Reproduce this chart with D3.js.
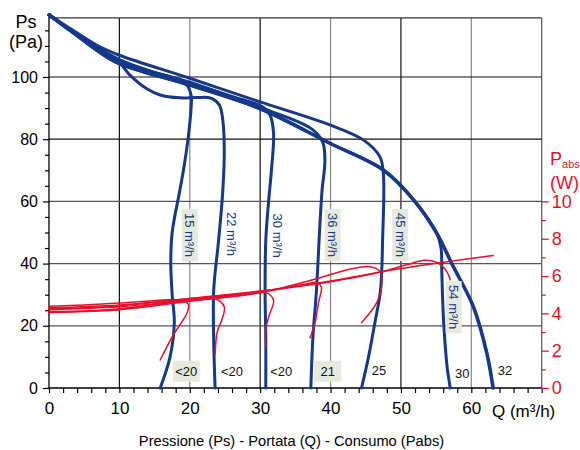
<!DOCTYPE html>
<html><head><meta charset="utf-8">
<script src="https://cdn.jsdelivr.net/npm/d3@7"></script>
<style>body{margin:0;background:#fff}svg{display:block;font-family:"Liberation Sans",Arial,Helvetica,sans-serif}</style>
</head><body><svg id="c" width="580" height="450"></svg>
<script>
// ---------- data ----------
const xTickLabels = [0, 10, 20, 30, 40, 50, 60];
const psTickLabels = [0, 20, 40, 60, 80, 100];
const wTickLabels = [0, 2, 4, 6, 8, 10];
const flowLabels = ["15 m³/h", "22 m³/h", "30 m³/h", "36 m³/h", "45 m³/h", "54 m³/h"];
const noiseLabels = ["<20", "<20", "<20", "21", "25", "30", "32"];

// Pressure curves: [Q (m³/h), Ps (Pa)]
const ps15 = [[0,120],[3,115],[6.8,109.6],[10,105.6],[14,102.2],[18.6,99],[19.6,97.4],[20.2,94],[20.2,90.5],[19.8,81],[19.1,70],[18.6,63.7],[17.5,50],[17.3,40],[17.5,30],[17.8,21],[17.2,10],[15.8,0]];
const ps22 = [[0,120],[3,115],[6.8,109.4],[10,104.6],[11.5,100.6],[13.9,96.2],[15.8,94.2],[18.6,93.3],[21,93.4],[23,93.2],[24.2,91],[24.7,86],[24.9,76.5],[24.7,63.7],[24.1,47.6],[23.4,31.5],[23.4,15.4],[23.6,0]];
const ps30 = [[0,120],[3,115],[6.8,109.2],[10,105],[20,98],[27,93],[30.2,90.6],[31.4,87.8],[31.9,82],[31.6,70],[31.2,60],[30.8,47.6],[30.7,31.5],[30.8,15.6],[30.8,0]];
const ps36 = [[0,120],[3,115],[6.8,109],[10,104.8],[20,98.3],[30,90.2],[35,86],[37.5,83],[38.9,79],[39.2,73],[38.8,63.7],[38.5,53],[38.0,31.5],[37.5,16.5],[37.2,0]];
const ps45 = [[0,120],[3,115.6],[6.8,110.2],[10,107],[20,99.6],[30,92],[39.9,84.6],[44.7,79.7],[47,74.4],[47.5,69],[47.4,48],[47.1,31.5],[46.3,21],[45.4,10],[44.4,0]];
const ps54 = [[0,120],[3,115],[6.8,108.6],[10,104.3],[20,97.4],[30,89.8],[39.9,78.7],[47.5,70.1],[51.8,60.5],[55.1,49.7],[55.7,45],[55.8,38],[55.9,30],[56.1,20],[56.6,6],[57,0]];
const psMax = [[0,120],[3,115],[6.8,108.6],[10,104.3],[20,97.4],[30,89.8],[39.9,78.7],[47.5,70.1],[51.8,60.5],[55.1,49.7],[57.2,40.1],[60.3,26.1],[62.2,11.2],[63.1,0]];

// Power curves: [Q (m³/h), Pabs (W)]
const pw15 = [[0,4.38],[5,4.45],[10,4.55],[15,4.68],[18.5,4.72],[19.8,4.5],[19.6,4.0],[18.8,3.5],[17.6,2.8],[15.8,1.5]];
const pw22 = [[0,4.05],[5,4.1],[10,4.2],[15,4.5],[20,4.75],[23.4,4.82],[24.9,4.35],[24.6,3.7],[23.9,3.0],[23.6,1.8]];
const pw30 = [[0,4.2],[10,4.35],[20,4.7],[27,4.95],[30.9,5.1],[31.9,4.7],[31.3,3.9],[30.8,3.2],[30.8,2.2]];
const pw36 = [[0,4.3],[10,4.45],[20,4.8],[30,5.15],[36,5.55],[38.1,5.64],[38.7,5.4],[38.3,4.6],[37.8,3.5],[37.1,2.7]];
const pw45 = [[0,4.1],[10,4.2],[20,4.65],[30,5.1],[38,5.85],[42,6.3],[45.6,6.5],[47,6.25],[47.3,5.65],[46.6,4.6],[44.4,3.5]];
const pw54 = [[0,4.25],[10,4.4],[20,4.8],[30,5.2],[40,5.7],[47,6.2],[50.8,6.6],[53.4,6.85],[55.3,6.7],[56.5,6.25],[57,5.8]];
const pwMax = [[0,4.05],[10,4.25],[20,4.7],[30,5.15],[41.3,5.82],[50,6.4],[63.1,7.1]];

// annotation anchors [Q, Ps]
const flowLabelAt = [[20.0,49.2],[26.0,49.5],[32.5,49],[40.3,49.2],[49.9,49.2],[57.5,26]];
const flowLabelBox = [true,false,false,true,true,true];
const noiseLabelAt = [[19.5,5.4],[26,5.4],[33,5.4],[39.6,5.4],[46.9,5.6],[58.7,4.8],[64.8,5.8]];
const noiseLabelBox = [true,false,false,true,false,false,false];

// ---------- drawing ----------
const BLUE = "#14388a", RED = "#e5112d", BOXC = "#e6e9dc";
const svg = d3.select("#c");
const x = d3.scaleLinear().domain([0,70]).range([49,541.7]);
const y = d3.scaleLinear().domain([0,120]).range([388,14.8]);
const yW = d3.scaleLinear().domain([0,20]).range([388,14.8]);

const grid = svg.append("g");
[10,20,30,40,50,60,70].forEach(v=>{
  grid.append("line").attr("x1",x(v)).attr("x2",x(v)).attr("y1",y(0)).attr("y2",y(119))
    .attr("stroke", v%20===0 ? "#888" : (v===70 ? "#555" : "#111")).attr("stroke-width",1.2);
});
[20,40,60,80,100].forEach(v=>{
  grid.append("line").attr("x1",x(0)).attr("x2",x(70)).attr("y1",y(v)).attr("y2",y(v))
    .attr("stroke", v>=80 ? "#111" : "#555").attr("stroke-width",1.2);
});
grid.append("line").attr("x1",x(0)).attr("x2",x(70)).attr("y1",y(119)).attr("y2",y(119)).attr("stroke","#333").attr("stroke-width",1.2);

// left axis
const yAxis = d3.axisLeft(y).tickValues(d3.range(0,120,5)).tickSize(4)
  .tickFormat(d=> psTickLabels.includes(d) ? d : "");
const gy = svg.append("g").attr("transform",`translate(${x(0)},0)`).call(yAxis);
gy.select(".domain").attr("d",`M0,${y(0)}V${y(120)}`).attr("stroke","#000").attr("stroke-width",1.3);
gy.selectAll(".tick line").attr("stroke","#000").attr("stroke-width",1.2)
  .attr("x2",d=> psTickLabels.includes(d) ? -6 : -4);
gy.selectAll(".tick text").attr("font-size",16).attr("fill","#000").attr("x",-11).attr("font-family","Liberation Sans, Arial, sans-serif");

// bottom axis
const xAxis = d3.axisBottom(x).tickValues(d3.range(0,71,2)).tickSize(5)
  .tickFormat(d=> xTickLabels.includes(d) ? d : "");
const gx = svg.append("g").attr("transform",`translate(0,${y(0)})`).call(xAxis);
gx.select(".domain").attr("d",`M${x(0)},0H${x(70)}`).attr("stroke","#000").attr("stroke-width",1.3);
gx.selectAll(".tick line").attr("stroke","#000").attr("stroke-width",1.2);
gx.selectAll(".tick text").attr("font-size",17).attr("fill","#000").attr("y",14).attr("font-family","Liberation Sans, Arial, sans-serif");

// right axis (power)
const wAxis = d3.axisRight(yW).tickValues(d3.range(0,11,1)).tickSize(4)
  .tickFormat(d=> wTickLabels.includes(d) ? d : "");
const gw = svg.append("g").attr("transform",`translate(${x(70)},0)`).call(wAxis);
gw.select(".domain").remove();
gw.selectAll(".tick line").attr("stroke",RED).attr("stroke-width",1.3)
  .attr("x2",d=> wTickLabels.includes(d) ? 7 : 4);
gw.selectAll(".tick text").attr("font-size",18).attr("fill",RED).attr("x",10).attr("font-family","Liberation Sans, Arial, sans-serif");

// curves
const lineP = d3.line().x(d=>x(d[0])).y(d=>y(d[1])).curve(d3.curveCatmullRom.alpha(0.5));
const lineW = d3.line().x(d=>x(d[0])).y(d=>yW(d[1])).curve(d3.curveCatmullRom.alpha(0.5));
const cg = svg.append("g").attr("fill","none").attr("stroke-linecap","round").attr("stroke-linejoin","round");
[ps15,ps22,ps30,ps36,ps45,ps54].forEach(c=>{
  cg.append("path").attr("d",lineP(c)).attr("stroke",BLUE).attr("stroke-width",3);
});
cg.append("path").attr("d",lineP(psMax)).attr("stroke",BLUE).attr("stroke-width",3.6);
[pw15,pw22,pw30,pw36,pw45,pw54,pwMax].forEach(c=>{
  cg.append("path").attr("d",lineW(c)).attr("stroke",RED).attr("stroke-width",1.5);
});

// flow labels (rotated)
flowLabels.forEach((t,i)=>{
  const cx = x(flowLabelAt[i][0]), cy = y(flowLabelAt[i][1]);
  const g = svg.append("g").attr("transform",`translate(${cx},${cy}) rotate(90)`);
  const txt = g.append("text").attr("text-anchor","middle").attr("dy","0.36em")
    .attr("font-size",13).attr("fill",BLUE).text(t);
  if (flowLabelBox[i]) {
    const b = txt.node().getBBox();
    g.insert("rect","text").attr("x",b.x-4).attr("y",-8).attr("width",b.width+8).attr("height",16).attr("fill",BOXC);
  }
});
// noise labels
noiseLabels.forEach((t,i)=>{
  const cx = x(noiseLabelAt[i][0]), cy = y(noiseLabelAt[i][1]);
  const txt = svg.append("text").attr("x",cx).attr("y",cy).attr("dy","0.36em").attr("text-anchor","middle")
    .attr("font-size",13).attr("fill","#111").text(t);
  if (noiseLabelBox[i]) {
    svg.insert("rect",()=>txt.node()).attr("x",cx-13.5).attr("y",cy-10.5).attr("width",27).attr("height",21).attr("fill",BOXC);
  }
});

// axis titles
svg.append("text").attr("x",26).attr("y",28).attr("text-anchor","middle").attr("font-size",18).text("Ps");
svg.append("text").attr("x",26).attr("y",48).attr("text-anchor","middle").attr("font-size",18).text("(Pa)");
const pa = svg.append("text").attr("x",550).attr("y",165).attr("font-size",18).attr("fill",RED);
pa.append("tspan").text("P");
pa.append("tspan").attr("font-size",11).attr("dy",3).text("abs");
svg.append("text").attr("x",550).attr("y",189).attr("font-size",18).attr("fill",RED).text("(W)");
svg.append("text").attr("x",492).attr("y",417).attr("font-size",17).text("Q (m³/h)");
svg.append("text").attr("x",291.5).attr("y",446).attr("text-anchor","middle").attr("font-size",14.7).text("Pressione (Ps) - Portata (Q) - Consumo (Pabs)");
</script></body></html>
